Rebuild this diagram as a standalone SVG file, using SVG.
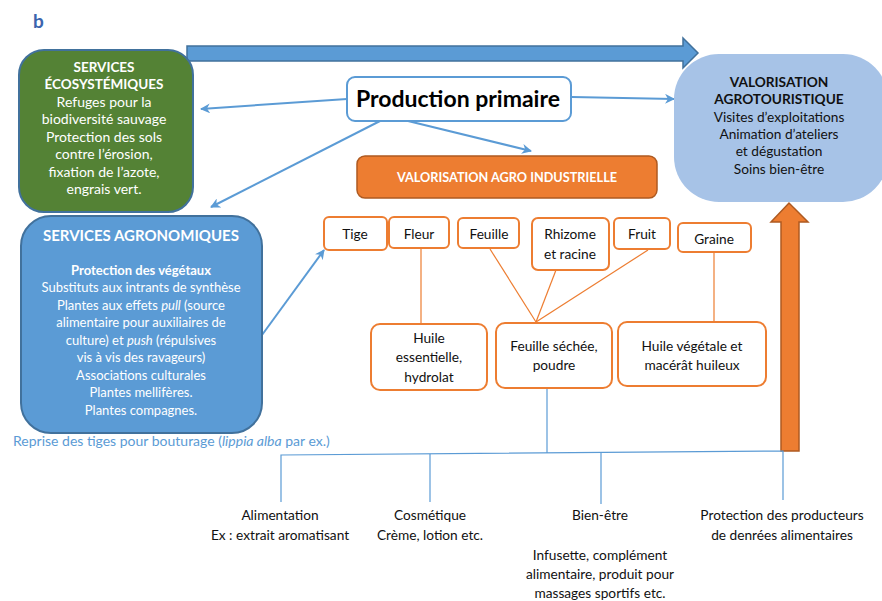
<svg xmlns="http://www.w3.org/2000/svg" width="882" height="601" viewBox="0 0 882 601">
<defs>
<style>
text{font-family:Lato,"Open Sans","Liberation Sans",sans-serif;}
.w{fill:#ffffff;text-anchor:middle;font-size:13px;}
.wb{fill:#ffffff;text-anchor:middle;font-size:13px;font-weight:bold;}
.g{fill:#ffffff;text-anchor:middle;font-size:14px;}
.gb{fill:#ffffff;text-anchor:middle;font-size:13.5px;font-weight:bold;}
.k{fill:#111111;text-anchor:middle;font-size:13.7px;}
.kb{fill:#111111;text-anchor:middle;font-size:13.7px;font-weight:bold;}
.ob{fill:#ffffff;stroke:#ed7d31;stroke-width:2;}
.ol{stroke:#ed7d31;stroke-width:1.2;fill:none;}
.bl{stroke:#5b9bd5;stroke-width:1.2;fill:none;}
.ar{stroke:#5b9bd5;stroke-width:2;fill:none;marker-end:url(#ah);}
</style>
<marker id="ah" viewBox="0 0 10 10" refX="9" refY="5" markerWidth="5" markerHeight="5" orient="auto" markerUnits="strokeWidth">
<path d="M0,0 L10,5 L0,10 L3,5 z" fill="#5b9bd5"/>
</marker>
</defs>
<rect width="882" height="601" fill="#ffffff"/>
<text x="33" y="28" style="font-size:19px;font-weight:bold;fill:#3c64ad;">b</text>

<g id="connectors">
<polygon points="187,46 683,46 683,38 698,53 683,68 683,61 187,61" fill="#5b9bd5" stroke="#41719c" stroke-width="1.5"/>
<polygon points="781,451 781,222 771,222 789,203 808,222 799,222 799,451" fill="#ed7d31" stroke="#ae5a21" stroke-width="1.5"/>
<line class="ar" x1="347" y1="99" x2="201" y2="109"/>
<line class="ar" x1="380" y1="121" x2="211" y2="207"/>
<line class="ar" x1="408" y1="121" x2="531" y2="151"/>
<line class="ar" x1="572" y1="97" x2="674" y2="99"/>
<line class="ar" x1="262" y1="335" x2="324" y2="250"/>
<line class="ol" x1="421" y1="248" x2="421" y2="324"/>
<line class="ol" x1="490" y1="249" x2="536" y2="322"/>
<line class="ol" x1="556" y1="270" x2="536" y2="322"/>
<line class="ol" x1="648" y1="250" x2="536" y2="322"/>
<line class="ol" x1="714" y1="252" x2="714" y2="322"/>
<line class="bl" x1="547" y1="388" x2="547" y2="453"/>
<polyline class="bl" points="281,502 281,455 783,451 783,500"/>
<line class="bl" x1="430" y1="454" x2="430" y2="502"/>
<line class="bl" x1="601" y1="453" x2="601" y2="504"/>
</g>

<g id="services-ecosystemiques">
<rect x="19" y="50" width="174" height="162" rx="25" fill="#548235" stroke="#41719c" stroke-width="2"/>
<text class="gb" x="104" y="72">SERVICES</text>
<text class="gb" x="104" y="89">ÉCOSYSTÉMIQUES</text>
<text class="g" x="104" y="107">Refuges pour la</text>
<text class="g" x="104" y="124">biodiversité sauvage</text>
<text class="g" x="104" y="142">Protection des sols</text>
<text class="g" x="104" y="159">contre l’érosion,</text>
<text class="g" x="104" y="177">fixation de l’azote,</text>
<text class="g" x="104" y="194">engrais vert.</text>
</g>

<g id="production-primaire">
<rect x="347" y="77" width="224" height="44" rx="8" fill="#ffffff" stroke="#5b9bd5" stroke-width="2"/>
<text x="458" y="107" style="font-size:23px;font-weight:bold;fill:#000;text-anchor:middle;">Production primaire</text>
</g>

<g id="valorisation-agrotouristique">
<rect x="674" y="54" width="214" height="148" rx="45" fill="#a7c3e7"/>
<text class="kb" x="779" y="87">VALORISATION</text>
<text class="kb" x="779" y="104">AGROTOURISTIQUE</text>
<text class="k" x="779" y="122">Visites d’exploitations</text>
<text class="k" x="779" y="139">Animation d’ateliers</text>
<text class="k" x="779" y="156">et dégustation</text>
<text class="k" x="779" y="174">Soins bien-être</text>
</g>

<g id="valorisation-agro-industrielle">
<rect x="357" y="156" width="300" height="42" rx="8" fill="#ed7d31" stroke="#ae5a21" stroke-width="1.5"/>
<text x="507" y="182" style="font-size:12.7px;font-weight:bold;fill:#fff;text-anchor:middle;">VALORISATION AGRO INDUSTRIELLE</text>
</g>

<g id="services-agronomiques">
<rect x="21" y="216" width="241" height="217" rx="30" fill="#5b9bd5" stroke="#41719c" stroke-width="2"/>
<text x="141" y="241" style="font-size:15px;font-weight:bold;fill:#fff;text-anchor:middle;">SERVICES AGRONOMIQUES</text>
<text class="wb" x="141" y="275">Protection des végétaux</text>
<text class="w" x="141" y="292">Substituts aux intrants de synthèse</text>
<text class="w" x="141" y="310">Plantes aux effets <tspan font-style="italic">pull</tspan> (source</text>
<text class="w" x="141" y="327">alimentaire pour auxiliaires de</text>
<text class="w" x="141" y="345">culture) et <tspan font-style="italic">push</tspan> (répulsives</text>
<text class="w" x="141" y="362">vis à vis des ravageurs)</text>
<text class="w" x="141" y="380">Associations culturales</text>
<text class="w" x="141" y="397">Plantes mellifères.</text>
<text class="w" x="141" y="415">Plantes compagnes.</text>
</g>

<text x="13" y="446" style="font-size:14px;fill:#5b9bd5;">Reprise des tiges pour bouturage (<tspan font-style="italic">lippia alba</tspan> par ex.)</text>

<g id="tige"><rect class="ob" x="324" y="217" width="63" height="33" rx="5"/><text class="k" x="355" y="239">Tige</text></g>
<g id="fleur"><rect class="ob" x="389" y="217" width="60" height="31" rx="5"/><text class="k" x="419" y="239">Fleur</text></g>
<g id="feuille"><rect class="ob" x="458" y="218" width="61" height="30" rx="5"/><text class="k" x="489" y="239">Feuille</text></g>
<g id="rhizome"><rect class="ob" x="532" y="218" width="77" height="52" rx="6"/><text class="k" x="570" y="239">Rhizome</text><text class="k" x="570" y="259">et racine</text></g>
<g id="fruit"><rect class="ob" x="614" y="218" width="56" height="31" rx="5"/><text class="k" x="642" y="239">Fruit</text></g>
<g id="graine"><rect class="ob" x="678" y="223" width="73" height="29" rx="5"/><text class="k" x="714" y="244">Graine</text></g>

<g id="huile-essentielle"><rect class="ob" x="371" y="324" width="116" height="66" rx="9"/><text class="k" x="429" y="343">Huile</text><text class="k" x="429" y="362">essentielle,</text><text class="k" x="429" y="382">hydrolat</text></g>
<g id="feuille-sechee"><rect class="ob" x="496" y="323" width="116" height="65" rx="9"/><text class="k" x="554" y="351">Feuille séchée,</text><text class="k" x="554" y="370">poudre</text></g>
<g id="huile-vegetale"><rect class="ob" x="618" y="322" width="148" height="64" rx="9"/><text class="k" x="692" y="351">Huile végétale et</text><text class="k" x="692" y="370">macérât huileux</text></g>

<g id="alimentation"><text class="k" x="280" y="520">Alimentation</text><text class="k" x="280" y="540">Ex : extrait aromatisant</text></g>
<g id="cosmetique"><text class="k" x="430" y="520">Cosmétique</text><text class="k" x="430" y="540">Crème, lotion etc.</text></g>
<g id="bien-etre"><text class="k" x="600" y="520">Bien-être</text><text class="k" x="600" y="560">Infusette, complément</text><text class="k" x="600" y="579">alimentaire, produit pour</text><text class="k" x="600" y="598">massages sportifs etc.</text></g>
<g id="protection-producteurs"><text class="k" x="782" y="520">Protection des producteurs</text><text class="k" x="782" y="540">de denrées alimentaires</text></g>
</svg>
